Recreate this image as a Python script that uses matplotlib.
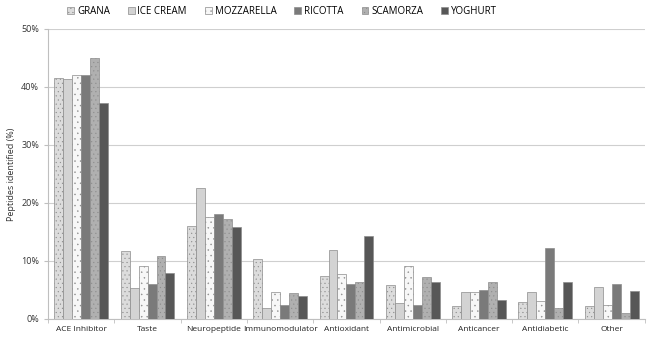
import matplotlib.pyplot as plt
import numpy as np

plt.rcParams['font.family'] = ['Open Sans', 'DejaVu Sans']

categories = ['ACE Inhibitor', 'Taste', 'Neuropeptide', 'Immunomodulator', 'Antioxidant',
              'Antimicrobial', 'Anticancer', 'Antidiabetic', 'Other']
series = ['GRANA', 'ICE CREAM', 'MOZZARELLA', 'RICOTTA', 'SCAMORZA', 'YOGHURT']

grana = [41.6, 11.7, 16.1, 10.3, 7.4, 5.9, 2.3, 3.0, 2.3]
ice_cream = [41.4, 5.4, 22.6, 1.8, 11.8, 2.8, 4.6, 4.6, 5.5]
mozzarella = [42.0, 9.1, 17.6, 4.6, 7.7, 9.2, 4.6, 3.1, 2.4]
ricotta = [42.1, 6.0, 18.1, 2.4, 6.0, 2.4, 4.9, 12.2, 6.1]
scamorza = [45.0, 10.9, 17.2, 4.5, 6.4, 7.3, 6.4, 1.8, 1.0]
yoghurt = [37.3, 7.9, 15.9, 4.0, 14.3, 6.4, 3.2, 6.4, 4.8]

values = [grana, ice_cream, mozzarella, ricotta, scamorza, yoghurt]
colors = ['#dcdcdc', '#d3d3d3', '#f7f7f7', '#7a7a7a', '#b0b0b0', '#575757']
hatches = ['....', None, '...', None, '....', None]

fig, ax = plt.subplots(figsize=(6.5, 3.4), dpi=100)
fig.subplots_adjust(left=0.074, right=0.992, top=0.915, bottom=0.062)

x = np.arange(len(categories))
w = 0.135
plt.rcParams['hatch.color'] = '#c8c8c8'
plt.rcParams['hatch.linewidth'] = 0.3
for i, (name, vals) in enumerate(zip(series, values)):
    ax.bar(x + (i - 2.5) * w, np.array(vals) / 100, w, color=colors[i],
           edgecolor='#8c8c8c', linewidth=0.5, hatch=hatches[i], label=name, zorder=3)

ax.set_xlim(-0.5, len(categories) - 0.5)
ax.set_ylim(0, 0.5)
ax.set_yticks(np.arange(0, 0.51, 0.1))
ax.set_yticklabels(['%d%%' % v for v in range(0, 51, 10)], fontsize=6.5, color='#333333')
ax.set_xticks(x)
ax.set_xticklabels(categories, fontsize=6, color='#222222')
ax.tick_params(axis='x', length=0, pad=5)
ax.set_xticks(np.arange(-0.5, len(categories)), minor=True)
ax.tick_params(axis='x', which='minor', length=3, color='#bfbfbf')
ax.tick_params(axis='y', length=3, color='#bfbfbf')
ax.grid(axis='y', color='#cfcfcf', linewidth=0.8, zorder=0)
for s in ['top', 'right']:
    ax.spines[s].set_visible(False)
for s in ['left', 'bottom']:
    ax.spines[s].set_color('#bfbfbf')
ax.set_ylabel('Peptides identified (%)', fontsize=6.5, color='#333333')

ax.legend(loc='lower center', bbox_to_anchor=(0.392, 1.01), ncol=6, frameon=False,
          fontsize=7, handlelength=0.7, handleheight=0.7, handletextpad=0.3,
          columnspacing=1.85)

fig.savefig('out.png', dpi=100)
